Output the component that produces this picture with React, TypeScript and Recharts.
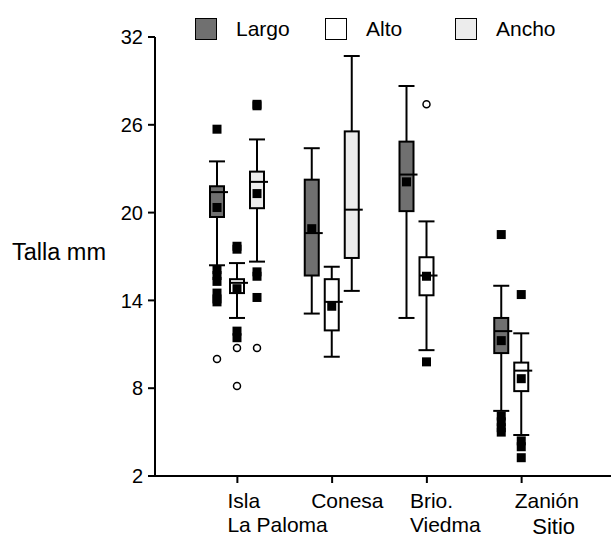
import { ComposedChart, Bar, XAxis, YAxis, Legend, Label } from "recharts";

const FONT = "'Liberation Sans', Arial, sans-serif";

const sites = ["Isla\nLa Paloma", "Conesa", "Brio.\nViedma", "Zanión"];
const series = ["Largo", "Alto", "Ancho"];
const yTicks = [2, 8, 14, 20, 26, 32];

// [whisker low, q1, median, q3, whisker high]
const largoBox = [
  [16.4, 19.7, 21.4, 21.8, 23.5],
  [13.1, 15.7, 18.6, 22.25, 24.4],
  [12.8, 20.1, 22.6, 24.85, 28.65],
  [6.45, 10.4, 11.9, 12.8, 15.0],
];
const altoBox = [
  [12.8, 14.5, 15.2, 15.45, 16.55],
  [10.15, 11.95, 13.9, 15.45, 16.3],
  [10.6, 14.35, 15.7, 16.95, 19.4],
  [4.8, 7.8, 9.2, 9.75, 11.75],
];
const anchoBox = [
  [16.65, 20.3, 22.1, 22.8, 25.0],
  [14.65, 16.9, 20.2, 25.55, 30.7],
  null,
  null,
];

const largoMean = [20.35, 18.9, 22.1, 11.25];
const altoMean = [14.8, 13.6, 15.65, 8.65];
const anchoMean = [21.3, null, null, null];

// filled squares
const largoOutliers = [
  [25.7, 16.1, 15.7, 15.3, 14.5, 14.1, 13.9],
  [],
  [],
  [18.5, 6.1, 5.7, 5.3, 5.0],
];
const altoOutliers = [[17.7, 17.5, 11.9, 11.45], [], [9.8], [14.4, 4.4, 4.0, 3.25]];
const anchoOutliers = [[27.4, 27.3, 15.95, 15.65, 14.2], [], [], []];

// open circles
const largoExtremes = [[10.0], [], [], []];
const altoExtremes = [[10.75, 8.15], [], [27.4], []];
const anchoExtremes = [[10.75], [], [], []];

const rows = sites.map((site, i) => ({
  site,
  largo: { box: largoBox[i], mean: largoMean[i], out: largoOutliers[i], ext: largoExtremes[i] },
  alto: { box: altoBox[i], mean: altoMean[i], out: altoOutliers[i], ext: altoExtremes[i] },
  ancho: { box: anchoBox[i], mean: anchoMean[i], out: anchoOutliers[i], ext: anchoExtremes[i] },
}));

// label start offsets from tick, as in the original figure
const labelShift = [-10, -21, -17, -7];

const quartiles = (key: string) => (d: any) => (d[key].box ? [d[key].box[1], d[key].box[3]] : null);

function boxShape(key: string) {
  return (props: any) => {
    const { x, y, width, height, payload, fill } = props;
    const s = payload && payload[key];
    if (!s || !s.box || !height) return <g />;
    const [lo, q1, med, q3, hi] = s.box;
    const k = height / (q3 - q1);
    const py = (v: number) => y + (q3 - v) * k;
    const cx = x + width / 2;
    const sq = 9;
    return (
      <g>
        <line x1={cx} x2={cx} y1={py(hi)} y2={y} stroke="#000" strokeWidth={2} />
        <line x1={cx} x2={cx} y1={y + height} y2={py(lo)} stroke="#000" strokeWidth={2} />
        <line x1={cx - 8} x2={cx + 8} y1={py(hi)} y2={py(hi)} stroke="#000" strokeWidth={2} />
        <line x1={cx - 8} x2={cx + 8} y1={py(lo)} y2={py(lo)} stroke="#000" strokeWidth={2} />
        <rect x={x} y={y} width={width} height={height} fill={fill} stroke="#000" strokeWidth={2} />
        <line x1={x} x2={x + width + 4} y1={py(med)} y2={py(med)} stroke="#000" strokeWidth={2} />
        {s.mean != null && (
          <rect x={cx - sq / 2} y={py(s.mean) - sq / 2} width={sq} height={sq} fill="#000" />
        )}
        {s.out.map((v: number, i: number) => (
          <rect key={"o" + i} x={cx - sq / 2} y={py(v) - sq / 2} width={sq} height={sq} fill="#000" />
        ))}
        {s.ext.map((v: number, i: number) => (
          <circle key={"e" + i} cx={cx} cy={py(v)} r={3.5} fill="#fff" stroke="#000" strokeWidth={1.5} />
        ))}
      </g>
    );
  };
}

const SiteTick = (props: any) => {
  const { x, y, payload, index } = props;
  const lines = String(payload.value).split("\n");
  const tx = x + labelShift[index];
  return (
    <text x={tx} y={y} fill="#000" fontSize={21} fontFamily={FONT} textAnchor="start">
      {lines.map((l, i) => (
        <tspan key={i} x={tx} dy={i === 0 ? 23 : 24}>
          {l}
        </tspan>
      ))}
    </text>
  );
};

const renderLegend = (props: any) => {
  const items = [...(props.payload || [])].sort(
    (a: any, b: any) => series.indexOf(a.value) - series.indexOf(b.value)
  );
  return (
    <div style={{ display: "flex", fontFamily: FONT }}>
      {items.map((entry: any) => (
        <div key={entry.value} style={{ display: "flex", alignItems: "center", width: 130 }}>
          <span
            style={{
              display: "inline-block",
              width: 20,
              height: 20,
              background: entry.color,
              border: "1.5px solid #000",
              marginRight: 19,
            }}
          />
          <span style={{ fontSize: 21, color: "#000" }}>{entry.value}</span>
        </div>
      ))}
    </div>
  );
};

export default function App() {
  return (
    <div style={{ position: "absolute", left: 0, top: 0, background: "#fff", fontFamily: FONT }}>
      <ComposedChart
        width={611}
        height={539}
        data={rows}
        margin={{ top: 37, right: 0, bottom: 0, left: 0 }}
        barSize={14}
        barGap={6}
      >
        <XAxis
          dataKey="site"
          height={63}
          padding={{ left: 35, right: 42 }}
          axisLine={{ stroke: "#000", strokeWidth: 2 }}
          tickLine={{ stroke: "#000", strokeWidth: 2 }}
          tickSize={7}
          tick={<SiteTick />}
          interval={0}
        >
          <Label
            content={(p: any) => (
              <text
                x={p.viewBox.x + p.viewBox.width - 36}
                y={p.viewBox.y + p.viewBox.height - 5}
                textAnchor="end"
                fontSize={22}
                fontFamily={FONT}
                fill="#000"
              >
                Sitio
              </text>
            )}
          />
        </XAxis>
        <YAxis
          width={155}
          domain={[2, 32]}
          ticks={yTicks}
          allowDataOverflow
          axisLine={{ stroke: "#000", strokeWidth: 2 }}
          tickLine={{ stroke: "#000", strokeWidth: 2 }}
          tickSize={7}
          tickMargin={5}
          tick={{ fill: "#000", fontSize: 20, fontFamily: FONT }}
        >
          <Label
            content={(p: any) => (
              <text
                x={p.viewBox.x + 12}
                y={p.viewBox.y + p.viewBox.height / 2 + 3}
                fontSize={23.5}
                fontFamily={FONT}
                fill="#000"
              >
                Talla mm
              </text>
            )}
          />
        </YAxis>
        <Legend
          layout="horizontal"
          verticalAlign="middle"
          align="center"
          content={renderLegend}
          wrapperStyle={{ top: 17, left: 195, width: 420, height: 24 }}
        />
        <Bar name="Largo" dataKey={quartiles("largo")} fill="#707070" shape={boxShape("largo")} isAnimationActive={false} />
        <Bar name="Alto" dataKey={quartiles("alto")} fill="#ffffff" shape={boxShape("alto")} isAnimationActive={false} />
        <Bar name="Ancho" dataKey={quartiles("ancho")} fill="#ececec" shape={boxShape("ancho")} isAnimationActive={false} />
      </ComposedChart>
    </div>
  );
}
